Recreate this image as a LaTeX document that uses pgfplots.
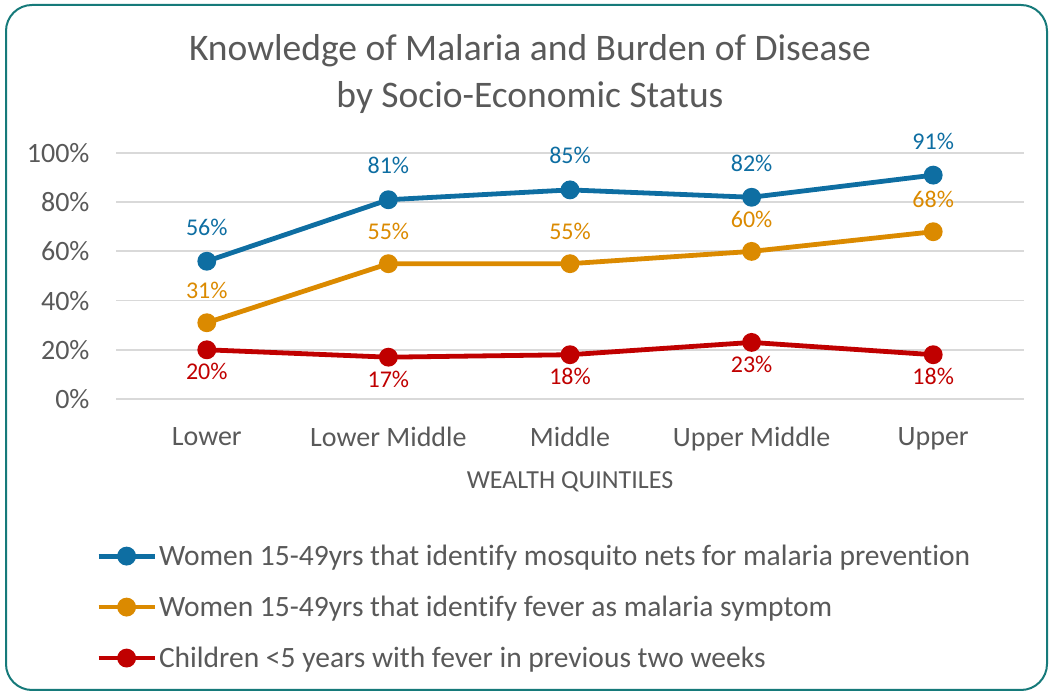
\documentclass[border=0pt]{standalone}
\usepackage{pgfplots}
\pgfplotsset{compat=1.18}
\usepackage{fontspec}
\setmainfont[Ligatures=NoCommon]{Carlito}

\definecolor{frame}{HTML}{167A7A}
\definecolor{txt}{HTML}{595959}
\definecolor{gridc}{HTML}{D9D9D9}
\definecolor{cblue}{HTML}{0E6EA2}
\definecolor{corange}{HTML}{DB8A00}
\definecolor{cred}{HTML}{C00000}

\begin{document}
\begin{tikzpicture}[x=1pt,y=1pt]
\useasboundingbox (0,0) rectangle (1050,693);
\draw[frame, line width=2pt, rounded corners=26pt] (6,3) rectangle (1047,688);
\node[txt, align=center, font=\fontsize{37.5}{47}\selectfont] at (530,619)
  {Knowledge of Malaria and Burden of Disease\\by Socio-Economic Status};

\begin{axis}[
  at={(116pt,294pt)}, anchor=south west,
  scale only axis, width=908pt, height=246pt,
  xmin=-0.5, xmax=4.5, ymin=0, ymax=100,
  axis line style={draw=none},
  major tick length=0pt,
  xmajorgrids=false, ymajorgrids=true,
  grid style={draw=gridc, line width=1.8pt},
  ytick={0,20,40,60,80,100},
  yticklabels={0\%,20\%,40\%,60\%,80\%,100\%},
  xtick={0,1,2,3,4},
  xticklabels={Lower,Lower Middle,Middle,Upper Middle,Upper},
  ticklabel style={font=\fontsize{28}{32}\selectfont, text=txt},
  yticklabel style={xshift=-23pt},
  xticklabel style={yshift=-25pt},
  xlabel={WEALTH QUINTILES},
  xlabel style={font=\fontsize{26}{30}\selectfont, text=txt,
    at={(axis description cs:0.5,0)}, anchor=center, yshift=-83pt},
  clip=false,
  /pgf/number format/assume math mode=true,
  every axis plot/.append style={line width=4.8pt, mark=*, mark size=7pt},
  nodes near coords={\pgfmathprintnumber{\pgfplotspointmeta}\%},
  every node near coord/.append style={font=\fontsize{24}{28}\selectfont},
  legend style={at={(-0.022,-0.585)}, anchor=north west, draw=none,
    font=\fontsize{29.5}{34}\selectfont, text=txt,
    row sep=25pt, inner sep=0pt, cells={anchor=west}},
  legend image code/.code={
    \draw[#1, line width=4.8pt, mark=none] (0pt,0pt) -- (56pt,0pt);
    \fill[#1] (28pt,0pt) circle (7pt);},
]
\addplot[cblue, every node near coord/.append style={text=cblue, above, yshift=20pt}]
  coordinates {(0,56) (1,81) (2,85) (3,82) (4,91)};
\addplot[corange, every node near coord/.append style={text=corange, above, yshift=18pt}]
  coordinates {(0,31) (1,55) (2,55) (3,60) (4,68)};
\addplot[cred, every node near coord/.append style={text=cred, below, yshift=-8pt}]
  coordinates {(0,20) (1,17) (2,18) (3,23) (4,18)};
\legend{Women 15-49yrs that identify mosquito nets for malaria prevention,
        Women 15-49yrs that identify fever as malaria symptom,
        Children <5 years with fever in previous two weeks}
\end{axis}
\end{tikzpicture}
\end{document}
